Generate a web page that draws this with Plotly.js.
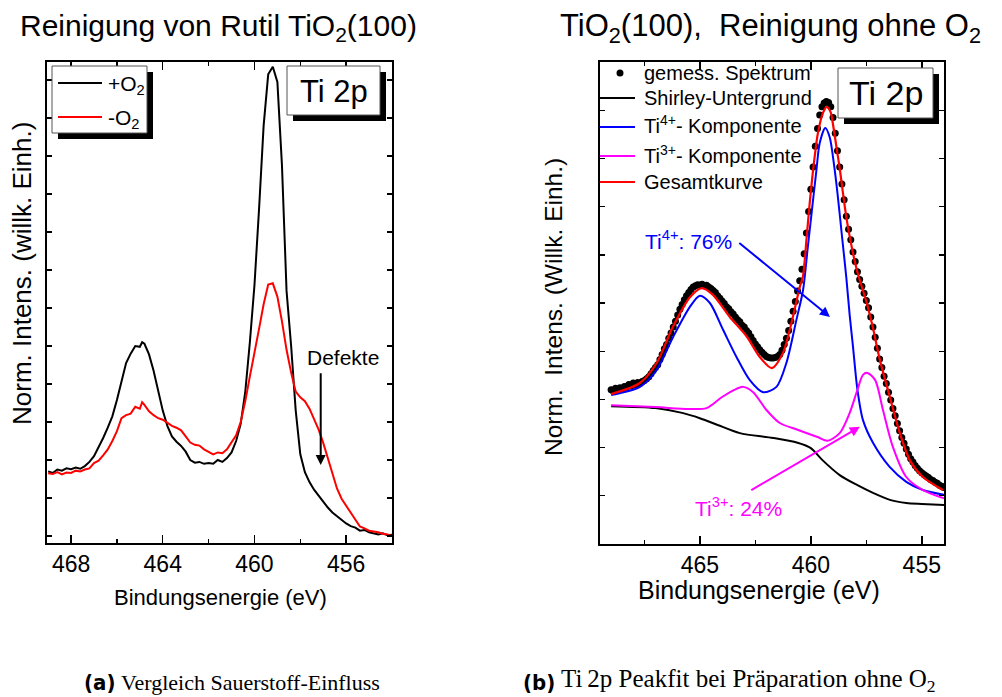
<!DOCTYPE html>
<html>
<head>
<meta charset="utf-8">
<script src="https://cdn.plot.ly/plotly-3.0.1.min.js"></script>
<style>
  html, body { margin: 0; padding: 0; background: #fff; }
  #plot { width: 1002px; height: 697px; }
</style>
</head>
<body>
<div id="plot"></div>
<script>
// ---------- (a) Ti 2p, Vergleich +O2 / -O2 ----------
const energyA = [469.0,468.8,468.6,468.4,468.2,468.0,467.8,467.6,467.4,467.2,467.0,466.8,466.6,466.4,466.2,466.0,465.8,465.6,465.4,465.2,465.0,464.9,464.8,464.6,464.4,464.2,464.0,463.8,463.6,463.4,463.2,463.0,462.8,462.6,462.4,462.2,462.0,461.8,461.6,461.4,461.2,461.0,460.8,460.6,460.4,460.2,460.0,459.8,459.6,459.4,459.2,459.0,458.8,458.6,458.4,458.2,458.0,457.8,457.6,457.4,457.2,457.0,456.8,456.6,456.4,456.2,456.0,455.8,455.6,455.4,455.2,455.0,454.8,454.6,454.4,454.2,454.0];
const intensWithO2 = [0.170,0.166,0.175,0.172,0.178,0.176,0.180,0.177,0.184,0.195,0.210,0.232,0.258,0.285,0.315,0.358,0.405,0.455,0.480,0.500,0.498,0.510,0.506,0.478,0.435,0.385,0.330,0.290,0.262,0.248,0.237,0.222,0.200,0.193,0.195,0.190,0.192,0.190,0.200,0.195,0.205,0.220,0.250,0.295,0.380,0.510,0.660,0.860,1.080,1.215,1.235,1.195,0.975,0.645,0.500,0.330,0.215,0.168,0.142,0.122,0.106,0.090,0.075,0.062,0.052,0.042,0.033,0.026,0.022,0.014,0.016,0.010,0.008,0.004,0.007,0.002,0.003];
const intensWithoutO2 = [0.165,0.163,0.168,0.162,0.167,0.166,0.172,0.170,0.175,0.178,0.192,0.198,0.212,0.228,0.250,0.276,0.310,0.318,0.322,0.340,0.335,0.352,0.345,0.328,0.318,0.310,0.306,0.298,0.290,0.285,0.278,0.262,0.246,0.240,0.238,0.228,0.222,0.215,0.220,0.218,0.228,0.245,0.265,0.300,0.355,0.420,0.480,0.545,0.610,0.662,0.665,0.630,0.565,0.490,0.430,0.380,0.365,0.355,0.335,0.308,0.280,0.245,0.205,0.160,0.125,0.098,0.080,0.060,0.042,0.025,0.020,0.014,0.012,0.010,0.006,0.004,0.000];
const ticksA = [468, 464, 460, 456];
const seriesNamesA = ['+O<sub>2</sub>', '-O<sub>2</sub>'];
// Defekte arrow (energy, tail intensity, tip intensity)
const defektArrow = {energy: 457.11, from: 0.432, to: 0.187};

// ---------- (b) Ti 2p Peakfit ohne O2 ----------
const energyMeas = [];
for (let i = 0; i <= 150; i++) energyMeas.push(+(469.0 - i * 0.1).toFixed(1));
const intensMeas = [3.20,3.17,3.23,3.19,3.24,3.21,3.27,3.25,3.31,3.28,3.34,3.31,3.35,3.33,3.37,3.39,3.43,3.47,3.53,3.60,3.66,3.72,3.83,3.93,4.05,4.14,4.27,4.38,4.50,4.62,4.75,4.87,4.97,5.07,5.15,5.22,5.28,5.33,5.36,5.38,5.37,5.39,5.36,5.37,5.33,5.30,5.26,5.22,5.15,5.10,5.04,4.99,4.92,4.88,4.82,4.77,4.71,4.65,4.61,4.54,4.50,4.43,4.38,4.30,4.22,4.15,4.09,4.03,3.98,3.93,3.89,3.87,3.86,3.86,3.87,3.89,3.93,4.02,4.14,4.27,4.43,4.62,4.83,5.03,5.25,5.46,5.70,6.02,6.45,6.90,7.36,7.82,8.25,8.62,8.90,9.07,9.15,9.18,9.16,9.07,8.85,8.52,8.16,7.82,7.47,7.14,6.80,6.53,6.31,6.06,5.86,5.65,5.49,5.35,5.20,5.05,4.90,4.71,4.50,4.29,4.06,3.84,3.66,3.48,3.33,3.15,2.99,2.81,2.66,2.50,2.35,2.21,2.09,1.97,1.86,1.77,1.70,1.63,1.57,1.52,1.48,1.44,1.41,1.38,1.34,1.32,1.28,1.26,1.22,1.20,1.17];

const energyShirley = [469.0,467.0,465.8,465.0,464.2,463.2,461.7,460.6,460.0,459.5,458.7,457.9,457.2,456.4,455.7,455.0,454.0];
const intensShirley = [2.86,2.82,2.72,2.61,2.47,2.30,2.20,2.10,1.99,1.75,1.43,1.22,1.06,0.91,0.85,0.83,0.81];

const energyTi4 = [469.0,467.7,466.95,466.2,465.45,465.0,464.55,463.95,463.35,462.75,462.15,461.55,461.1,460.65,460.35,460.15,459.95,459.75,459.6,459.35,459.15,458.95,458.8,458.6,458.4,458.25,458.1,457.9,457.65,457.2,456.45,455.7,454.95,454.0];
const intensTi4 = [3.09,3.26,3.61,4.30,4.92,5.15,5.00,4.44,3.88,3.40,3.15,3.26,3.76,4.65,5.27,6.10,6.93,7.75,8.32,8.63,8.44,7.85,7.28,6.40,5.52,4.75,4.09,3.20,2.57,2.10,1.60,1.29,1.12,1.02];

const energyTi3 = [469.0,467.0,465.5,464.7,464.0,463.35,463.05,462.6,462.0,461.4,460.6,459.7,459.25,458.7,458.25,457.9,457.65,457.45,457.1,456.75,456.3,455.7,454.95,454.0];
const intensTi3 = [2.88,2.84,2.80,2.82,3.05,3.22,3.26,3.15,2.78,2.51,2.37,2.22,2.14,2.30,2.72,3.20,3.51,3.55,3.40,2.78,2.01,1.39,1.12,0.95];

const energyFit = [469.0,467.7,466.94,466.22,465.45,464.91,464.41,463.65,462.88,462.3,461.76,461.26,460.81,460.5,460.36,460.2,460.05,459.85,459.68,459.45,459.28,459.1,459.01,458.85,458.69,458.38,457.93,457.48,457.21,456.89,456.44,455.99,455.54,454.95,454.05];
const intensFit = [3.11,3.34,3.76,4.50,5.12,5.31,5.17,4.71,4.30,3.88,3.65,3.96,4.71,5.33,5.54,6.30,7.08,7.95,8.53,8.95,9.07,8.95,8.73,8.25,7.76,6.72,5.69,5.00,4.50,3.82,3.05,2.30,1.74,1.39,1.12];

const ticksB = [465, 460, 455];
const legendNamesB = ['gemess. Spektrum', 'Shirley-Untergrund', 'Ti<sup>4+</sup>- Komponente', 'Ti<sup>3+</sup>- Komponente', 'Gesamtkurve'];
// annotation arrows: [energy, intensity] tail and tip
const arrowTi4 = {from: [463.29, 6.27], to: [459.14, 4.71], label: 'Ti<sup>4+</sup>: 76%'};
const arrowTi3 = {from: [462.75, 1.10], to: [457.79, 2.43], label: 'Ti<sup>3+</sup>: 24%'};

// ---------- layout helpers (pixel -> paper) ----------
const W = 1002, H = 697;
const px = v => v / W;
const py = v => 1 - v / H;
const FONT = 'Liberation Sans, Arial, sans-serif';
const BLUE = '#0000ff', MAGENTA = '#ff00ff', RED = '#ff0000';

const traces = [
  {x: energyA, y: intensWithO2, xaxis: 'x', yaxis: 'y', mode: 'lines', line: {color: '#000', width: 2}, showlegend: false},
  {x: energyA, y: intensWithoutO2, xaxis: 'x', yaxis: 'y', mode: 'lines', line: {color: RED, width: 2}, showlegend: false},
  {x: energyMeas, y: intensMeas, xaxis: 'x2', yaxis: 'y2', mode: 'markers', marker: {color: '#000', size: 7}, showlegend: false},
  {x: energyShirley, y: intensShirley, xaxis: 'x2', yaxis: 'y2', mode: 'lines', line: {color: '#000', width: 2, shape: 'spline', smoothing: 0.8}, showlegend: false},
  {x: energyTi4, y: intensTi4, xaxis: 'x2', yaxis: 'y2', mode: 'lines', line: {color: BLUE, width: 2, shape: 'spline', smoothing: 0.8}, showlegend: false},
  {x: energyTi3, y: intensTi3, xaxis: 'x2', yaxis: 'y2', mode: 'lines', line: {color: MAGENTA, width: 2, shape: 'spline', smoothing: 0.8}, showlegend: false},
  {x: energyFit, y: intensFit, xaxis: 'x2', yaxis: 'y2', mode: 'lines', line: {color: RED, width: 2.2, shape: 'spline', smoothing: 0.8}, showlegend: false}
];

const axisCommon = {
  showline: true, linecolor: '#000', linewidth: 1.6, mirror: 'ticks',
  showgrid: false, zeroline: false, ticks: 'inside', tickcolor: '#000', tickwidth: 1.4,
  tickfont: {family: FONT, size: 23, color: '#000'}
};

const shapes = [];
const annotations = [];

function box(x0, y0, x1, y1, shadow) {
  shapes.push({type: 'rect', xref: 'paper', yref: 'paper', x0: px(x0 + shadow), x1: px(x1 + shadow), y0: py(y0 + shadow), y1: py(y1 + shadow), fillcolor: '#000', line: {width: 0}});
  shapes.push({type: 'rect', xref: 'paper', yref: 'paper', x0: px(x0), x1: px(x1), y0: py(y0), y1: py(y1), fillcolor: '#fff', line: {color: '#555', width: 1}});
}
function hline(x0, x1, y, color) {
  shapes.push({type: 'line', xref: 'paper', yref: 'paper', x0: px(x0), x1: px(x1), y0: py(y), y1: py(y), line: {color: color, width: 2}});
}
function text(t, x, y, size, opts) {
  annotations.push(Object.assign({text: t, xref: 'paper', yref: 'paper', x: px(x), y: py(y), showarrow: false,
    font: {family: FONT, size: size, color: '#000'}, xanchor: 'center', yanchor: 'middle'}, opts || {}));
}

// titles
text('Reinigung von Rutil TiO<sub>2</sub>(100)', 218, 28, 30);
text('TiO<sub>2</sub>(100),\u00a0 Reinigung ohne O<sub>2</sub>', 558, 28, 31, {xanchor: 'left'});

// axis titles
text('Bindungsenergie (eV)', 220, 597, 22);
text('Bindungsenergie (eV)', 759, 590, 25);
text('Norm. Intens. (willk. Einh.)', 22, 274, 26, {textangle: -90});
text('Norm.\u00a0 Intens. (Willk. Einh.)', 553, 307, 24.5, {textangle: -90});

// (a) legend box
box(52, 66, 147, 133, 6);
hline(58, 102, 83, '#000');
hline(58, 102, 117, RED);
text(seriesNamesA[0], 106, 85, 21, {xanchor: 'left'});
text(seriesNamesA[1], 106, 119, 21, {xanchor: 'left'});

// Ti 2p boxes
box(287, 66, 380, 115, 6);
text('Ti 2p', 333.5, 91, 31);
box(838, 68, 933, 118, 6);
text('Ti 2p', 885.5, 93, 34);

// Defekte
text('Defekte', 343, 357, 21);
annotations.push({xref: 'x', yref: 'y', axref: 'x', ayref: 'y', x: defektArrow.energy, y: defektArrow.to,
  ax: defektArrow.energy, ay: defektArrow.from, text: '', showarrow: true, arrowhead: 2, arrowsize: 1, arrowwidth: 2, arrowcolor: '#000'});

// (b) legend
shapes.push({type: 'circle', xref: 'paper', yref: 'paper', x0: px(616.5), x1: px(623.5), y0: py(69.5), y1: py(76.5), fillcolor: '#000', line: {width: 0}});
hline(600, 635, 98, '#000');
hline(600, 635, 127, BLUE);
hline(600, 635, 156, MAGENTA);
hline(600, 635, 182, RED);
const legendRows = [73, 98, 127, 156, 182];
legendNamesB.forEach((n, i) => {
  const hasSup = n.indexOf('<sup>') >= 0;
  text(n, 642, legendRows[i] + (hasSup ? -2 : 0), 20, {xanchor: 'left'});
});

// (b) component labels with arrows
annotations.push({xref: 'x2', yref: 'y2', x: 467.57, y: 6.31, text: arrowTi4.label, showarrow: false, xanchor: 'left', yanchor: 'middle', font: {family: FONT, size: 21, color: BLUE}});
annotations.push({xref: 'x2', yref: 'y2', axref: 'x2', ayref: 'y2', x: arrowTi4.to[0], y: arrowTi4.to[1], ax: arrowTi4.from[0], ay: arrowTi4.from[1], text: '', showarrow: true, arrowhead: 2, arrowsize: 1, arrowwidth: 2, arrowcolor: BLUE});
annotations.push({xref: 'x2', yref: 'y2', x: 465.32, y: 0.76, text: arrowTi3.label, showarrow: false, xanchor: 'left', yanchor: 'middle', font: {family: FONT, size: 21, color: MAGENTA}});
annotations.push({xref: 'x2', yref: 'y2', axref: 'x2', ayref: 'y2', x: arrowTi3.to[0], y: arrowTi3.to[1], ax: arrowTi3.from[0], ay: arrowTi3.from[1], text: '', showarrow: true, arrowhead: 2, arrowsize: 1, arrowwidth: 2, arrowcolor: MAGENTA});

// captions
const CAPSANS = 'DejaVu Sans Condensed, Roboto, Liberation Sans, sans-serif';
const CAPSERIF = 'Liberation Serif, DejaVu Serif, serif';
text('<b>(a)</b>', 82, 682, 22, {xanchor: 'left', font: {family: CAPSANS, size: 22, color: '#000'}});
text('Vergleich Sauerstoff-Einfluss', 119, 682, 22, {xanchor: 'left', font: {family: CAPSERIF, size: 22, color: '#000'}});
text('<b>(b)</b>', 521, 682, 22, {xanchor: 'left', font: {family: CAPSANS, size: 22, color: '#000'}});
text('Ti\u20092p Peakfit bei Präparation ohne O<sub>2</sub>', 559, 680, 25, {xanchor: 'left', font: {family: CAPSERIF, size: 25, color: '#000'}});

const layout = {
  width: W, height: H,
  margin: {l: 0, r: 0, t: 0, b: 0},
  paper_bgcolor: '#fff', plot_bgcolor: '#fff',
  font: {family: FONT, color: '#000'},
  showlegend: false,
  xaxis: Object.assign({}, axisCommon, {
    domain: [px(47), px(392)], anchor: 'y', range: [469.05, 454.0], autorange: false,
    tickmode: 'array', tickvals: ticksA, ticklen: 8,
    minor: {ticks: 'inside', tickmode: 'linear', tick0: 454, dtick: 2, ticklen: 4, tickcolor: '#000', showgrid: false}
  }),
  yaxis: Object.assign({}, axisCommon, {
    domain: [py(543), py(62)], anchor: 'x', range: [-0.0184, 1.2474], autorange: false,
    tickmode: 'linear', tick0: 0, dtick: 0.1, ticklen: 5, showticklabels: false
  }),
  xaxis2: Object.assign({}, axisCommon, {
    domain: [px(600), px(944)], anchor: 'y2', range: [469.5, 454.0], autorange: false,
    tickmode: 'array', tickvals: ticksB, ticklen: 8,
    minor: {ticks: 'inside', tickmode: 'linear', tick0: 455, dtick: 2.5, ticklen: 4, tickcolor: '#000', showgrid: false}
  }),
  yaxis2: Object.assign({}, axisCommon, {
    domain: [py(544), py(62)], anchor: 'x2', range: [0, 10], autorange: false,
    tickmode: 'linear', tick0: 0, dtick: 1, ticklen: 5, showticklabels: false
  }),
  shapes: shapes,
  annotations: annotations
};

Plotly.newPlot('plot', traces, layout, {displayModeBar: false, staticPlot: true});
</script>
</body>
</html>
